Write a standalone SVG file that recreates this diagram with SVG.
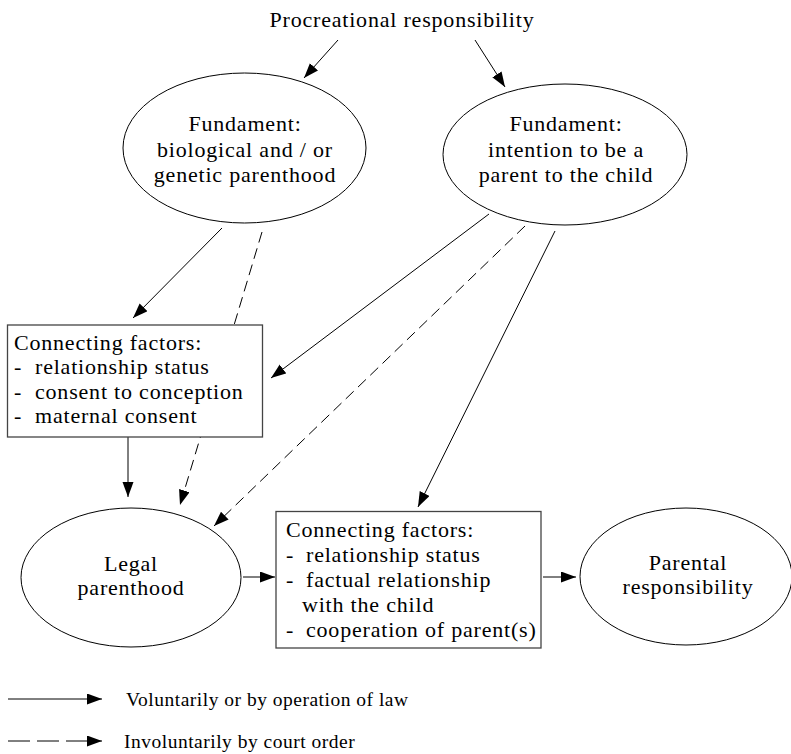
<svg xmlns="http://www.w3.org/2000/svg" width="791" height="754" viewBox="0 0 791 754">
<style>
text{font-family:"Liberation Serif","Times New Roman",serif;font-size:22px;letter-spacing:0.8px;fill:#000}
.c{text-anchor:middle}
.leg{font-size:19.5px;letter-spacing:0.5px}
.ell{fill:#fff;stroke:#000;stroke-width:1}
.box{fill:#fff;stroke:#444;stroke-width:1.3}
.ln{stroke:#000;stroke-width:1;fill:none;marker-end:url(#ah)}
.ds{stroke-dasharray:11 6}
</style>
<defs>
<marker id="ah" markerUnits="userSpaceOnUse" markerWidth="16" markerHeight="12" refX="15" refY="5.5" orient="auto">
<path d="M0,0 L15,5.5 L0,11 z" fill="#000"/>
</marker>
</defs>
<rect width="791" height="754" fill="#fff"/>
<g id="connectors">
<line class="ln" x1="338" y1="40" x2="304" y2="78"/>
<line class="ln" x1="475" y1="40" x2="505" y2="87"/>
<line class="ln" x1="222" y1="228" x2="133" y2="318"/>
<line class="ln ds" x1="262" y1="232" x2="180" y2="505"/>
<line class="ln" x1="489" y1="214" x2="271" y2="378"/>
<line class="ln ds" x1="525" y1="226" x2="214" y2="526"/>
<line class="ln" x1="555" y1="231" x2="418" y2="507"/>
<line class="ln" x1="128" y1="437" x2="128" y2="497"/>
<line class="ln" x1="243" y1="577" x2="275" y2="577"/>
<line class="ln" x1="543" y1="577" x2="576" y2="577"/>
</g>
<g id="title">
<text class="c" x="402" y="27">Procreational responsibility</text>
</g>
<g id="fundament-bio">
<ellipse class="ell" cx="244.5" cy="148" rx="121.5" ry="75"/>
<text class="c" x="245" y="131">Fundament:</text>
<text class="c" x="245" y="157">biological and / or</text>
<text class="c" x="245" y="182">genetic parenthood</text>
</g>
<g id="fundament-intent">
<ellipse class="ell" cx="565" cy="154.5" rx="122" ry="70.5"/>
<text class="c" x="566" y="131">Fundament:</text>
<text class="c" x="566" y="157">intention to be a</text>
<text class="c" x="566" y="182">parent to the child</text>
</g>
<g id="connecting-1">
<rect class="box" x="7.5" y="325" width="255" height="112"/>
<text x="14" y="350">Connecting factors:</text>
<text x="14" y="374">-</text><text x="35" y="374">relationship status</text>
<text x="14" y="399">-</text><text x="35" y="399">consent to conception</text>
<text x="14" y="423">-</text><text x="35" y="423">maternal consent</text>
</g>
<g id="legal">
<ellipse class="ell" cx="131" cy="577.5" rx="110" ry="69.5"/>
<text class="c" x="131" y="571">Legal</text>
<text class="c" x="131" y="595">parenthood</text>
</g>
<g id="connecting-2">
<rect class="box" x="276" y="511.5" width="265" height="136.5"/>
<text x="286" y="537">Connecting factors:</text>
<text x="286" y="562">-</text><text x="306" y="562">relationship status</text>
<text x="286" y="587">-</text><text x="306" y="587">factual relationship</text>
<text x="302" y="612">with the child</text>
<text x="286" y="637">-</text><text x="306" y="637">cooperation of parent(s)</text>
</g>
<g id="parental">
<ellipse class="ell" cx="686" cy="576.5" rx="106" ry="68.5"/>
<text class="c" x="688" y="570">Parental</text>
<text class="c" x="688" y="594">responsibility</text>
</g>
<g id="legend">
<line class="ln" x1="8" y1="699" x2="102" y2="699"/>
<text class="leg" x="126" y="706">Voluntarily or by operation of law</text>
<line class="ln" x1="8" y1="741" x2="102" y2="741" stroke-dasharray="22 7"/>
<text class="leg" x="124" y="748">Involuntarily by court order</text>
</g>
</svg>
